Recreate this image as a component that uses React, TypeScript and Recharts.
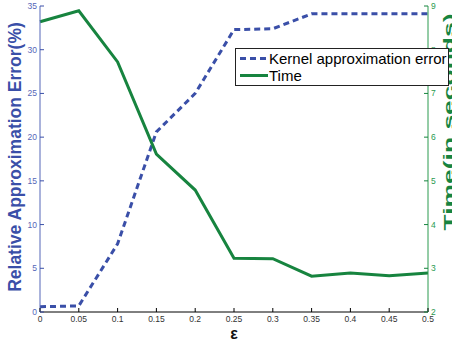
import React from "react";
import { ComposedChart, Line, XAxis, YAxis, Legend } from "recharts";

const epsilons = [0, 0.05, 0.1, 0.15, 0.2, 0.25, 0.3, 0.35, 0.4, 0.45, 0.5];
const kernelError = [0.6, 0.7, 7.8, 20.6, 25.0, 32.3, 32.4, 34.1, 34.1, 34.1, 34.1];
const timeSeconds = [8.64, 8.89, 7.72, 5.61, 4.79, 3.23, 3.22, 2.82, 2.89, 2.83, 2.89];
const leftTicks = [0, 5, 10, 15, 20, 25, 30, 35];
const rightTicks = [2, 3, 4, 5, 6, 7, 8, 9];
const xTickLabels = ["0", "0.05", "0.1", "0.15", "0.2", "0.25", "0.3", "0.35", "0.4", "0.45", "0.5"];

const data = epsilons.map((e, i) => ({ eps: e, err: kernelError[i], time: timeSeconds[i] }));

const BLUE = "#3a4fa8";
const GREEN = "#17843f";
const FONT = "'Liberation Sans', Arial, sans-serif";

const XTick = (props: any) => {
  const { x, y, payload, index } = props;
  return (
    <g>
      <line x1={x} y1={y} x2={x} y2={y - 4} stroke="#000" strokeWidth={1} />
      <text x={x} y={y + 10} textAnchor="middle" fontSize={8.5} fill="#333" fontFamily={FONT}>
        {xTickLabels[index] ?? String(payload.value)}
      </text>
    </g>
  );
};

const TopTick = (props: any) => {
  const { x, y } = props;
  return <line x1={x} y1={y} x2={x} y2={y + 4} stroke="#000" strokeWidth={1} />;
};

const LeftTick = (props: any) => {
  const { x, y, payload } = props;
  return (
    <g>
      <line x1={x} y1={y} x2={x + 4} y2={y} stroke={BLUE} strokeWidth={1} />
      <text x={x - 3} y={y + 3} textAnchor="end" fontSize={8.5} fill="#5566b8" fontFamily={FONT}>
        {payload.value}
      </text>
    </g>
  );
};

const RightTick = (props: any) => {
  const { x, y, payload } = props;
  return (
    <g>
      <line x1={x} y1={y} x2={x - 4} y2={y} stroke={GREEN} strokeWidth={1} />
      <text x={x + 3} y={y + 3} textAnchor="start" fontSize={8.5} fill="#2a9a4f" fontFamily={FONT}>
        {payload.value}
      </text>
    </g>
  );
};

const LeftLabel = (props: any) => {
  const vb = props.viewBox;
  const cx = vb.x + 20.5;
  const cy = vb.y + vb.height / 2 - 2;
  return (
    <text
      x={cx}
      y={cy}
      transform={`rotate(-90 ${cx} ${cy})`}
      textAnchor="middle"
      fontSize={17.5}
      fontWeight="bold"
      fill={BLUE}
      fontFamily={FONT}
    >
      Relative Approximation Error(%)
    </text>
  );
};

const RightLabel = (props: any) => {
  const vb = props.viewBox;
  const cx = vb.x + 26;
  const cy = vb.y + 116;
  return (
    <text
      x={cx}
      y={cy}
      transform={`rotate(-90 ${cx} ${cy})`}
      textAnchor="middle"
      fontSize={15}
      fontWeight="bold"
      fill={GREEN}
      fontFamily={FONT}
      textLength={217}
      lengthAdjust="spacingAndGlyphs"
    >
      Time(in seconds)
    </text>
  );
};

const XLabel = (props: any) => {
  const vb = props.viewBox;
  return (
    <text
      x={vb.x + vb.width / 2}
      y={vb.y + 27}
      textAnchor="middle"
      fontSize={16}
      fontWeight="bold"
      fill="#111"
      fontFamily={FONT}
    >
      ε
    </text>
  );
};

const LegendBox = (props: any) => {
  const items = props.payload || [];
  return (
    <div
      style={{
        border: "1px solid #222",
        background: "#fff",
        width: 214,
        height: 38,
        boxSizing: "border-box",
        padding: "1px 0 0 3px",
        fontFamily: FONT,
        fontSize: 15,
        color: "#000",
        lineHeight: "17px",
      }}
    >
      {items.map((it: any) => (
        <div key={it.value} style={{ display: "flex", alignItems: "center", whiteSpace: "nowrap" }}>
          <svg width={30} height={17}>
            <line
              x1={1}
              y1={8.5}
              x2={29}
              y2={8.5}
              stroke={it.color}
              strokeWidth={3}
              strokeDasharray={it.payload && it.payload.strokeDasharray ? "6 4" : undefined}
            />
          </svg>
          <span>{it.value}</span>
        </div>
      ))}
    </div>
  );
};

export default function App() {
  return (
    <div style={{ position: "absolute", left: 0, top: 0, width: 452, height: 345, background: "#fff", overflow: "hidden" }}>
      <ComposedChart width={452} height={345} data={data} margin={{ top: 6, right: 0, left: 0, bottom: 0 }}>
        <XAxis
          xAxisId="b"
          dataKey="eps"
          type="number"
          domain={[0, 0.5]}
          ticks={epsilons}
          height={33}
          tickSize={0}
          tickMargin={0}
          tickLine={false}
          axisLine={{ stroke: "#000" }}
          tick={<XTick />}
          interval={0}
          label={<XLabel />}
        />
        <XAxis
          xAxisId="t"
          dataKey="eps"
          type="number"
          orientation="top"
          domain={[0, 0.5]}
          ticks={epsilons}
          height={0}
          tickSize={0}
          tickMargin={0}
          tickLine={false}
          axisLine={{ stroke: "#000" }}
          tick={<TopTick />}
          interval={0}
        />
        <YAxis
          yAxisId="l"
          domain={[0, 35]}
          ticks={leftTicks}
          width={40}
          tickSize={0}
          tickMargin={0}
          tickLine={false}
          axisLine={{ stroke: "#5566b8" }}
          tick={<LeftTick />}
          interval={0}
          label={<LeftLabel />}
        />
        <YAxis
          yAxisId="r"
          orientation="right"
          domain={[2, 9]}
          ticks={rightTicks}
          width={24}
          tickSize={0}
          tickMargin={0}
          tickLine={false}
          axisLine={{ stroke: "#2a9a4f" }}
          tick={<RightTick />}
          interval={0}
          label={<RightLabel />}
        />
        <Legend
          verticalAlign="middle"
          align="center"
          layout="vertical"
          wrapperStyle={{ left: 235, top: 48, width: 216, height: 38 }}
          content={<LegendBox />}
        />
        <Line
          xAxisId="b"
          yAxisId="l"
          type="linear"
          dataKey="err"
          name="Kernel approximation error"
          stroke={BLUE}
          strokeWidth={3}
          strokeDasharray="6 4"
          dot={false}
          isAnimationActive={false}
        />
        <Line
          xAxisId="b"
          yAxisId="r"
          type="linear"
          dataKey="time"
          name="Time"
          stroke={GREEN}
          strokeWidth={3}
          dot={false}
          isAnimationActive={false}
        />
      </ComposedChart>
    </div>
  );
}
